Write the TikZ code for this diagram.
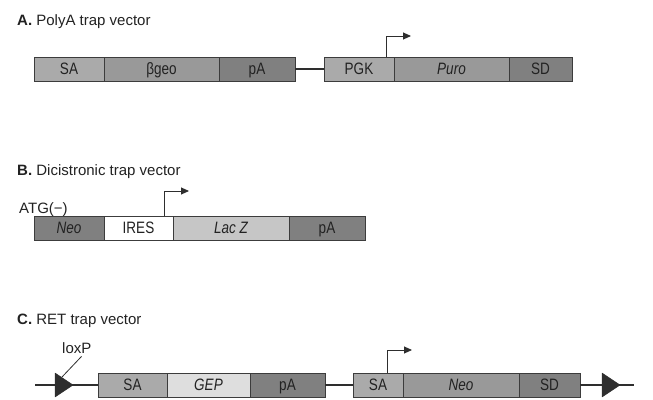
\documentclass[tikz,border=0pt]{standalone}
\usepackage{fontspec}
\setmainfont{Liberation Sans}
\newfontfamily\segfont[FakeStretch=0.82]{Liberation Sans}
\usetikzlibrary{arrows.meta,calc}

\definecolor{edge}{HTML}{3C3C3C}
\definecolor{ink}{HTML}{222222}
\definecolor{gLight}{HTML}{AAAAAA}
\definecolor{gMid}{HTML}{999999}
\definecolor{gDark}{HTML}{808080}
\definecolor{gPale}{HTML}{C6C6C6}
\definecolor{gPaler}{HTML}{DEDEDE}
\definecolor{wire}{HTML}{2E2E2E}

\begin{document}
\begin{tikzpicture}[x=1pt,y=-1pt,
  txt/.style={font=\fontsize{15}{15}\selectfont, text=ink, inner sep=0pt},
  seg/.style={font=\segfont\fontsize{16.5}{16.5}\selectfont, text=ink, inner sep=0pt,
              draw=edge, line width=0.9pt, outer sep=0pt,
              minimum height=24pt, text height=11.8pt, text depth=0pt, anchor=west},
  title/.style={txt, anchor=base west},
  backbone/.style={draw=wire, line width=1.1pt},
  promoter/.style={draw=wire, line width=0.9pt, -{Triangle[length=8pt,width=7pt]}},
  loxp/.style={fill=wire, draw=wire, line width=0.5pt, line join=round}
]
\useasboundingbox (0,0) rectangle (653,399);

% ---------------- A. PolyA trap vector ----------------
\node[title] (tA) at (17,25) {\textbf{A.} PolyA trap vector};

\node[seg, fill=gLight, minimum width=70pt]  (aSA)   at (34,69)  {SA};
\node[seg, fill=gMid,   minimum width=115pt] (aGeo)  at (104,69) {βgeo};
\node[seg, fill=gDark,  minimum width=76pt]  (apA)   at (219,69) {pA};
\node[seg, fill=gLight, minimum width=70pt]  (aPGK)  at (324,69) {PGK};
\node[seg, fill=gMid,   minimum width=115pt] (aPuro) at (394,69) {\itshape Puro};
\node[seg, fill=gDark,  minimum width=63pt]  (aSD)   at (509,69) {SD};

\draw[backbone] (apA.east) -- (aPGK.west);

\coordinate (aTSS) at ($(aPGK.north east)+(-8,0)$);
\coordinate (aTip) at (411,36);
\draw[promoter] (aTSS) |- (aTip);

% ---------------- B. Dicistronic trap vector ----------------
\node[title] (tB) at (17,175) {\textbf{B.} Dicistronic trap vector};
\node[title] (atg) at (19,213) {ATG(−)};

\node[seg, fill=gDark,  minimum width=70pt]  (bNeo)  at (34,228)  {\itshape Neo};
\node[seg, fill=white,  minimum width=69pt]  (bIRES) at (104,228) {IRES};
\node[seg, fill=gPale,  minimum width=116pt] (bLacZ) at (173,228) {\itshape Lac Z};
\node[seg, fill=gDark,  minimum width=76pt]  (bpA)   at (289,228) {pA};

\coordinate (bTSS) at ($(bIRES.north east)+(-9,0)$);
\coordinate (bTip) at (189,191);
\draw[promoter] (bTSS) |- (bTip);

% ---------------- C. RET trap vector ----------------
\node[title] (tC) at (17,324) {\textbf{C.} RET trap vector};

\node[seg, fill=gLight, minimum width=69pt]  (cSA)   at (98,385)  {SA};
\node[seg, fill=gPaler, minimum width=83pt]  (cGEP)  at (167,385) {\itshape GEP};
\node[seg, fill=gDark,  minimum width=75pt]  (cpA)   at (250,385) {pA};
\node[seg, fill=gLight, minimum width=50pt]  (cSA2)  at (353,385) {SA};
\node[seg, fill=gMid,   minimum width=116pt] (cNeo)  at (403,385) {\itshape Neo};
\node[seg, fill=gDark,  minimum width=61pt]  (cSD)   at (519,385) {SD};

\coordinate (cLeft)  at (35,385);
\coordinate (cRight) at (634,385);
\draw[backbone] (cLeft) -- (cSA.west);
\draw[backbone] (cpA.east) -- (cSA2.west);
\draw[backbone] (cSD.east) -- (cRight);

% loxP sites
\fill[loxp] (55,373) -- (73,385) -- (55,397) -- cycle;
\fill[loxp] (602,373) -- (620,385) -- (602,397) -- cycle;

\node[title] (lox) at (62,353) {loxP};
\coordinate (loxEnd) at (62,377);
\draw[draw=wire, line width=0.8pt] ($(lox.south east)+(-10,3)$) -- (loxEnd);

\coordinate (cTSS) at ($(cSA2.north west)+(34,0)$);
\coordinate (cTip) at (412,350);
\draw[promoter] (cTSS) |- (cTip);
\end{tikzpicture}
\end{document}
